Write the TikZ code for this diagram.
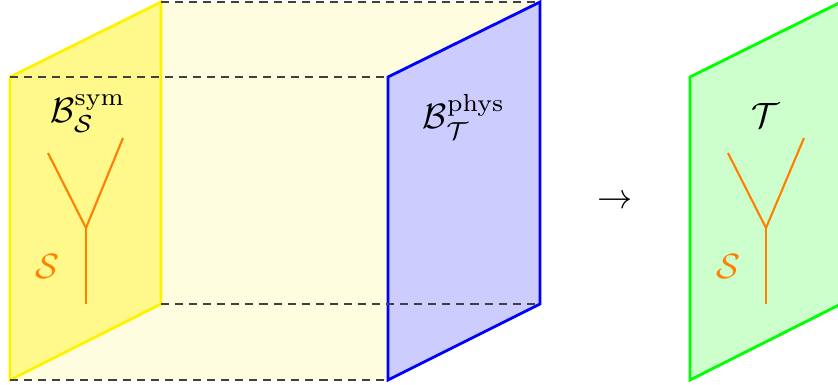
\documentclass[tikz,border=0pt]{standalone}
\usepackage{amsmath}
\begin{document}
\begin{tikzpicture}[x=0.01cm, y=-0.01cm]
\clip (0,0) rectangle (838,385);
% slab
\fill[yellow!12] (10,77) -- (161,2) -- (540,2) -- (540,304) -- (388,380) -- (10,380) -- cycle;
% symmetry boundary
\draw[thick, yellow, fill=yellow!45] (10,380) -- (10,77) -- (161,2) -- (161,304) -- cycle;
% physical boundary
\draw[thick, blue, fill=blue!20] (388,380) -- (388,77) -- (540,2) -- (540,304) -- cycle;
% edges of the slab
\draw[dash pattern=on 2.3pt off 1.7pt, black!75] (161,2) -- (540,2);
\draw[dash pattern=on 2.3pt off 1.7pt, black!75] (10,77) -- (388,77);
\draw[dash pattern=on 2.3pt off 1.7pt, black!75] (161,304) -- (540,304);
\draw[dash pattern=on 2.3pt off 1.7pt, black!75] (10,380) -- (388,380);
\node (bsym) at (88,114) {$\mathcal{B}^{\mathrm{sym}}_{\mathcal{S}}$};
\node (bphys) at (464,117) {$\mathcal{B}^{\mathrm{phys}}_{\mathcal{T}}$};
% Y junction
\coordinate (ya) at (86,228);
\draw[semithick, orange] (48,153) -- (ya) -- (123,138);
\draw[semithick, orange] (ya) -- (86,304);
\node[orange] (s1) at (47,266) {$\mathcal{S}$};
% arrow
\node (to) at (615,202) {$\to$};
% result
\draw[thick, green, fill=green!20] (690,380) -- (690,77) -- (841,2) -- (841,304) -- cycle;
\node (t) at (766,115) {$\mathcal{T}$};
\coordinate (yb) at (766,228);
\draw[semithick, orange] (728,153) -- (yb) -- (804,138);
\draw[semithick, orange] (yb) -- (766,304);
\node[orange] (s2) at (728,266) {$\mathcal{S}$};
\end{tikzpicture}
\end{document}
